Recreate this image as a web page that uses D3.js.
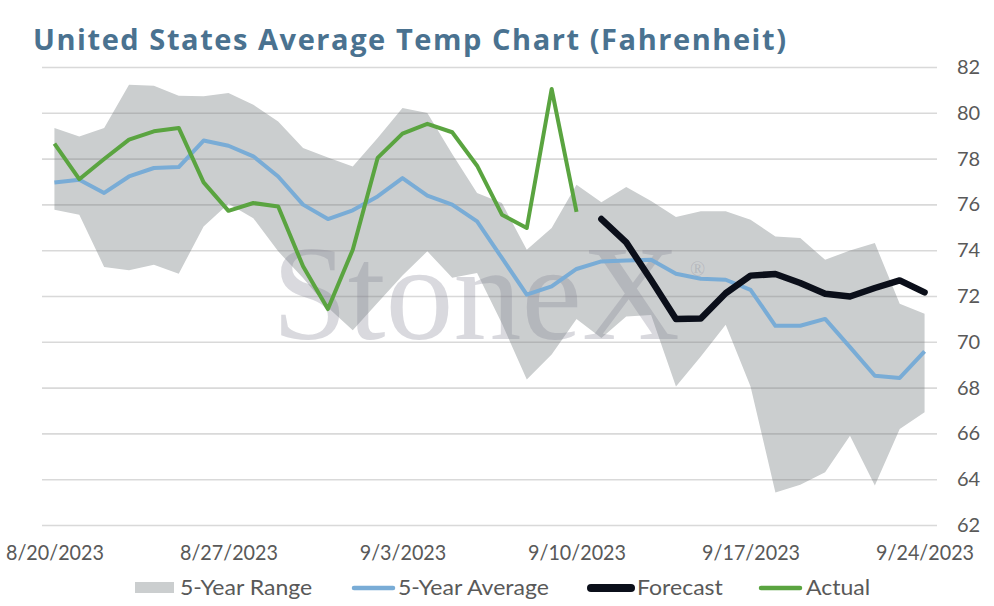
<!DOCTYPE html>
<html>
<head>
<meta charset="utf-8">
<script src="https://cdn.jsdelivr.net/npm/d3@7"></script>
<style>
  body { margin: 0; background: #fff; }
  svg { display: block; }
</style>
</head>
<body>
<div id="chart"></div>
<script>
// daily categories, 8/20 .. 9/24
const dates = ["8/20/2023","8/21/2023","8/22/2023","8/23/2023","8/24/2023","8/25/2023","8/26/2023",
  "8/27/2023","8/28/2023","8/29/2023","8/30/2023","8/31/2023","9/1/2023","9/2/2023",
  "9/3/2023","9/4/2023","9/5/2023","9/6/2023","9/7/2023","9/8/2023","9/9/2023",
  "9/10/2023","9/11/2023","9/12/2023","9/13/2023","9/14/2023","9/15/2023","9/16/2023",
  "9/17/2023","9/18/2023","9/19/2023","9/20/2023","9/21/2023","9/22/2023","9/23/2023","9/24/2023"];
const tickDates = ["8/20/2023","8/27/2023","9/3/2023","9/10/2023","9/17/2023","9/24/2023"];
const yTicks = [62,64,66,68,70,72,74,76,78,80,82];

const rangeHigh = [79.34,78.97,79.34,81.23,81.18,80.75,80.72,80.86,80.35,79.62,
  78.46,78.05,77.66,78.9,80.21,79.99,78.2,76.5,76.06,74.02,
  74.97,76.86,76.09,76.76,76.15,75.45,75.7,75.7,75.33,74.6,
  74.53,73.58,73.99,74.31,71.66,71.23];
const rangeLow = [75.77,75.55,73.27,73.12,73.37,72.97,75.04,76.03,75.4,73.95,
  72.79,71.5,70.5,71.7,72.9,73.95,72.8,73.0,70.8,68.35,
  69.44,71.0,70.17,71.1,71.17,68.05,69.36,70.75,68.05,63.42,
  63.76,64.3,65.9,63.72,66.19,66.92];
const fiveYearAvg = [76.96,77.08,76.5,77.22,77.59,77.63,78.79,78.56,78.1,77.22,
  75.99,75.36,75.74,76.35,77.15,76.38,75.99,75.26,73.66,72.06,
  72.42,73.18,73.51,73.55,73.58,72.97,72.75,72.71,72.27,70.7,
  70.7,71.0,69.77,68.52,68.42,69.58];
// actual runs 8/20 - 9/10, forecast 9/11 - 9/24
const actual = [78.65,77.1,77.98,78.83,79.19,79.34,76.96,75.72,76.06,75.91,
  73.3,71.43,74.02,78.03,79.09,79.52,79.15,77.69,75.55,74.97,81.04,75.67];
const forecast = [75.36,74.34,72.7,71.0,71.02,72.12,72.89,72.96,72.57,72.1,71.98,72.35,72.68,72.16];
const forecastStart = "9/11/2023";

const W = 994, H = 606;
const plot = {left: 42, right: 937, top: 67, bottom: 525};
const labelFont = "Lato, 'Noto Sans', sans-serif";

const svg = d3.select("#chart").append("svg")
  .attr("width", W).attr("height", H);

// original uses a wide geometric font; stretch Lato to the same widths
function widthOf(str) {
  const t = svg.append("text").style("font-family", labelFont).style("font-size", "21px").text(str);
  const w = t.node().getComputedTextLength();
  t.remove();
  return w;
}
const stretch = 98 / widthOf("8/27/2023");
const legendStretch = 151 / widthOf("5-Year Average");

const x = d3.scalePoint().domain(dates).range([plot.left, plot.right]).padding(0.5);
const y = d3.scaleLinear().domain([62, 82]).range([plot.bottom, plot.top]);

// 5-year range band
const band = dates.map((d, i) => ({d, lo: rangeLow[i], hi: rangeHigh[i]}));
svg.append("path")
  .datum(band)
  .attr("fill", "#cbcecf")
  .attr("d", d3.area().x(p => x(p.d)).y0(p => y(p.lo)).y1(p => y(p.hi)));

// gridlines + right labels
const yAxis = svg.append("g")
  .attr("transform", `translate(${plot.right},0)`)
  .call(d3.axisRight(y).tickValues(yTicks).tickSize(-(plot.right - plot.left)).tickPadding(20));
yAxis.select(".domain").remove();
yAxis.selectAll(".tick line").attr("stroke", "rgba(120,120,120,0.28)").attr("stroke-width", 1.6);
yAxis.selectAll(".tick text")
  .attr("fill", "#595959")
  .style("font-family", labelFont)
  .style("font-size", "20px");

// watermark
const wm = svg.append("g").attr("fill", "rgba(130,130,145,0.3)")
  .style("font-family", "'Liberation Serif', 'DejaVu Serif', serif");
wm.append("text").attr("x", 272).attr("y", 339)
  .style("font-size", "136px").text("StoneX");
wm.append("text").attr("x", 690).attr("y", 276)
  .style("font-size", "20px").text("®");

// series lines
const line = d3.line().defined(p => p.v != null).x(p => x(p.d)).y(p => y(p.v));
const avgPts = dates.map((d, i) => ({d, v: fiveYearAvg[i]}));
const actPts = actual.map((v, i) => ({d: dates[i], v}));
const fi = dates.indexOf(forecastStart);
const fcPts = forecast.map((v, i) => ({d: dates[fi + i], v}));

svg.append("path").datum(avgPts)
  .attr("fill", "none").attr("stroke", "#79acd6").attr("stroke-width", 4)
  .attr("stroke-linejoin", "round").attr("d", line);
svg.append("path").datum(actPts)
  .attr("fill", "none").attr("stroke", "#5aa440").attr("stroke-width", 4)
  .attr("stroke-linejoin", "round").attr("d", line);
svg.append("path").datum(fcPts)
  .attr("fill", "none").attr("stroke", "#0b0f1a").attr("stroke-width", 6.5)
  .attr("stroke-linejoin", "round").attr("stroke-linecap", "round").attr("d", line);

// x axis labels
const xAxis = svg.append("g")
  .attr("transform", `translate(0,${plot.bottom})`)
  .call(d3.axisBottom(x).tickValues(tickDates).tickSize(0).tickPadding(20));
xAxis.select(".domain").remove();
xAxis.selectAll(".tick text")
  .attr("fill", "#595959")
  .attr("transform", `scale(${stretch},1)`)
  .style("font-family", labelFont)
  .style("font-size", "21px");

// title
svg.append("text")
  .attr("x", 33).attr("y", 50)
  .attr("fill", "#4a7290")
  .attr("textLength", 753).attr("lengthAdjust", "spacing")
  .style("font-family", "'Open Sans', Lato, sans-serif")
  .style("font-weight", "bold")
  .style("font-size", "29px")
  .text("United States Average Temp Chart (Fahrenheit)");

// legend
const legendItems = [
  {name: "5-Year Range", kind: "rect", color: "#cbcecf", x: 135, len: 39, tx: 180},
  {name: "5-Year Average", kind: "line", color: "#79acd6", x: 354, len: 39, w: 4.5, tx: 398},
  {name: "Forecast", kind: "line", color: "#0b0f1a", x: 591, len: 40, w: 8, tx: 637},
  {name: "Actual", kind: "line", color: "#5aa440", x: 761, len: 39, w: 4.5, tx: 806}
];
const lg = svg.append("g").attr("transform", "translate(0,588)");
legendItems.forEach(it => {
  if (it.kind === "rect") {
    lg.append("rect").attr("x", it.x).attr("y", -6).attr("width", it.len).attr("height", 11).attr("fill", it.color);
  } else {
    lg.append("line").attr("x1", it.x).attr("x2", it.x + it.len).attr("y1", 0).attr("y2", 0)
      .attr("stroke", it.color).attr("stroke-width", it.w).attr("stroke-linecap", "round");
  }
  lg.append("text")
    .attr("transform", `translate(${it.tx},0) scale(${legendStretch},1)`)
    .attr("dy", "0.35em")
    .attr("fill", "#595959")
    .style("font-family", labelFont)
    .style("font-size", "21px")
    .text(it.name);
});
</script>
</body>
</html>
